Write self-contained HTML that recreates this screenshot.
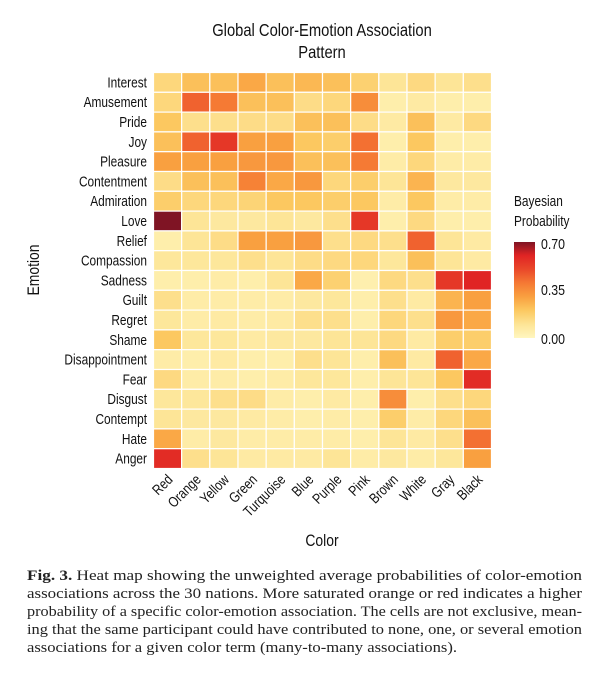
<!DOCTYPE html>
<html><head><meta charset="utf-8"><style>
html,body{margin:0;padding:0;background:#fff;}
svg{display:block;}
.lab{font-family:"Liberation Sans",sans-serif;font-size:14.5px;fill:#111;}
.cap{font-family:"Liberation Serif",serif;font-size:15px;fill:#222;}
</style></head><body>
<svg id="chart" width="600" height="675" viewBox="0 0 600 675">
<text class="lab" transform="translate(322,36) scale(0.82,1)" text-anchor="middle" style="font-size:18px">Global Color-Emotion Association</text>
<text class="lab" transform="translate(322,58) scale(0.82,1)" text-anchor="middle" style="font-size:18px">Pattern</text>
<text class="lab" transform="translate(39,270) rotate(-90) scale(0.82,1)" text-anchor="middle" style="font-size:17px">Emotion</text>
<text class="lab" transform="translate(322,546) scale(0.82,1)" text-anchor="middle" style="font-size:17px">Color</text>
<g id="cells"></g>
<g id="ylabels"></g>
<g id="xlabels"></g>
<g>
<text class="lab" transform="translate(514,206) scale(0.82,1)">Bayesian</text>
<text class="lab" transform="translate(514,226) scale(0.82,1)">Probability</text>
<defs><linearGradient id="lg" x1="0" y1="1" x2="0" y2="0">
<stop offset="0" stop-color="#fff6c0"/><stop offset="0.14" stop-color="#fde597"/><stop offset="0.29" stop-color="#fcc860"/><stop offset="0.43" stop-color="#f9a040"/><stop offset="0.57" stop-color="#f57a34"/><stop offset="0.71" stop-color="#ea4a2a"/><stop offset="0.86" stop-color="#e02424"/><stop offset="1" stop-color="#7f1424"/>
</linearGradient></defs>
<rect x="514" y="242" width="21" height="96" fill="url(#lg)"/>
<text class="lab" transform="translate(541,249) scale(0.85,1)">0.70</text>
<text class="lab" transform="translate(541,295) scale(0.85,1)">0.35</text>
<text class="lab" transform="translate(541,344) scale(0.85,1)">0.00</text>
</g>
<g>
<text class="cap" x="27" y="580" textLength="555" lengthAdjust="spacingAndGlyphs"><tspan font-weight="bold">Fig. 3.</tspan> Heat map showing the unweighted average probabilities of color-emotion</text>
<text class="cap" x="27" y="598" textLength="555" lengthAdjust="spacingAndGlyphs">associations across the 30 nations. More saturated orange or red indicates a higher</text>
<text class="cap" x="27" y="616" textLength="555" lengthAdjust="spacingAndGlyphs">probability of a specific color-emotion association. The cells are not exclusive, mean-</text>
<text class="cap" x="27" y="634" textLength="555" lengthAdjust="spacingAndGlyphs">ing that the same participant could have contributed to none, one, or several emotion</text>
<text class="cap" x="27" y="652" textLength="430" lengthAdjust="spacingAndGlyphs">associations for a given color term (many-to-many associations).</text>
</g>
</svg>
<script>
const colors = ["Red","Orange","Yellow","Green","Turquoise","Blue","Purple","Pink","Brown","White","Gray","Black"];
const emotions = ["Interest","Amusement","Pride","Joy","Pleasure","Contentment","Admiration","Love","Relief","Compassion","Sadness","Guilt","Regret","Shame","Disappointment","Fear","Disgust","Contempt","Hate","Anger"];
const values = [
[.15,.22,.22,.28,.22,.24,.22,.17,.10,.14,.10,.12],
[.15,.45,.40,.22,.22,.13,.15,.35,.05,.07,.05,.05],
[.20,.12,.12,.13,.13,.22,.22,.13,.07,.22,.07,.14],
[.22,.45,.55,.30,.30,.20,.18,.42,.05,.20,.05,.05],
[.30,.30,.30,.32,.32,.22,.22,.40,.06,.15,.06,.06],
[.13,.22,.22,.38,.28,.32,.15,.18,.10,.25,.08,.08],
[.18,.15,.15,.16,.20,.20,.18,.20,.06,.20,.06,.06],
[.70,.10,.08,.08,.10,.08,.12,.55,.05,.14,.05,.05],
[.05,.10,.13,.30,.30,.32,.12,.14,.12,.45,.10,.07],
[.09,.09,.09,.12,.10,.13,.14,.15,.09,.22,.10,.07],
[.05,.05,.06,.05,.10,.28,.17,.04,.14,.12,.55,.60],
[.12,.06,.06,.06,.06,.08,.09,.05,.12,.07,.25,.30],
[.09,.06,.07,.06,.07,.12,.12,.05,.15,.12,.32,.28],
[.20,.09,.09,.07,.08,.08,.10,.10,.14,.07,.18,.18],
[.06,.05,.07,.05,.05,.12,.10,.05,.22,.07,.45,.28],
[.14,.06,.06,.05,.06,.09,.09,.05,.10,.10,.20,.58],
[.09,.09,.12,.13,.06,.05,.07,.05,.35,.05,.12,.15],
[.10,.08,.08,.07,.06,.05,.06,.05,.18,.06,.15,.22],
[.28,.06,.08,.06,.06,.06,.06,.05,.10,.07,.12,.42],
[.58,.12,.10,.07,.07,.07,.10,.06,.08,.06,.09,.30]
];
const X0=153.5, X1=491.5, Y0=72.5, Y1=468.5, VMAX=0.70;
const cw=(X1-X0)/colors.length, ch=(Y1-Y0)/emotions.length;
function xPos(i){return X0+i*cw;}
function yPos(j){return Y0+j*ch;}
const stops=[[0,[255,246,190]],[0.1,[253,229,151]],[0.2,[252,200,96]],[0.3,[249,160,64]],[0.4,[245,122,52]],[0.5,[234,74,42]],[0.6,[224,36,36]],[0.7,[127,20,36]]];
function colorOf(v){
  v=Math.max(0,Math.min(VMAX,v));
  for(let k=1;k<stops.length;k++){
    if(v<=stops[k][0]){const a=stops[k-1],b=stops[k],t=(v-a[0])/(b[0]-a[0]);
      const c=a[1].map((x,i)=>Math.round(x+(b[1][i]-x)*t));return `rgb(${c.join(',')})`;}
  }
  return 'rgb(127,20,36)';
}
const NS="http://www.w3.org/2000/svg";
const gc=document.getElementById('cells'), gy=document.getElementById('ylabels'), gx=document.getElementById('xlabels');
values.forEach((row,j)=>{
  row.forEach((v,i)=>{
    const r=document.createElementNS(NS,'rect');
    r.setAttribute('x',xPos(i));r.setAttribute('y',yPos(j));
    r.setAttribute('width',cw);r.setAttribute('height',ch);
    r.setAttribute('fill',colorOf(v));r.setAttribute('stroke','#fff');r.setAttribute('stroke-width','1.2');
    
    
    gc.appendChild(r);
  });
});
emotions.forEach((e,j)=>{
  const t=document.createElementNS(NS,'text');
  t.setAttribute('class','lab');
  t.setAttribute('transform',`translate(147,${yPos(j)+ch/2+5}) scale(0.82,1)`);
  t.setAttribute('text-anchor','end');t.textContent=e;
  
  
  gy.appendChild(t);
});
colors.forEach((c,i)=>{
  const t=document.createElementNS(NS,'text');
  const cx=xPos(i)+cw/2+6, cy=Y1+12;
  t.setAttribute('class','lab');
  t.setAttribute('text-anchor','end');
  t.setAttribute('transform',`translate(${cx},${cy}) rotate(-45) scale(0.82,1)`);
  t.textContent=c;
  
  
  gx.appendChild(t);
});
</script>
</body></html>
